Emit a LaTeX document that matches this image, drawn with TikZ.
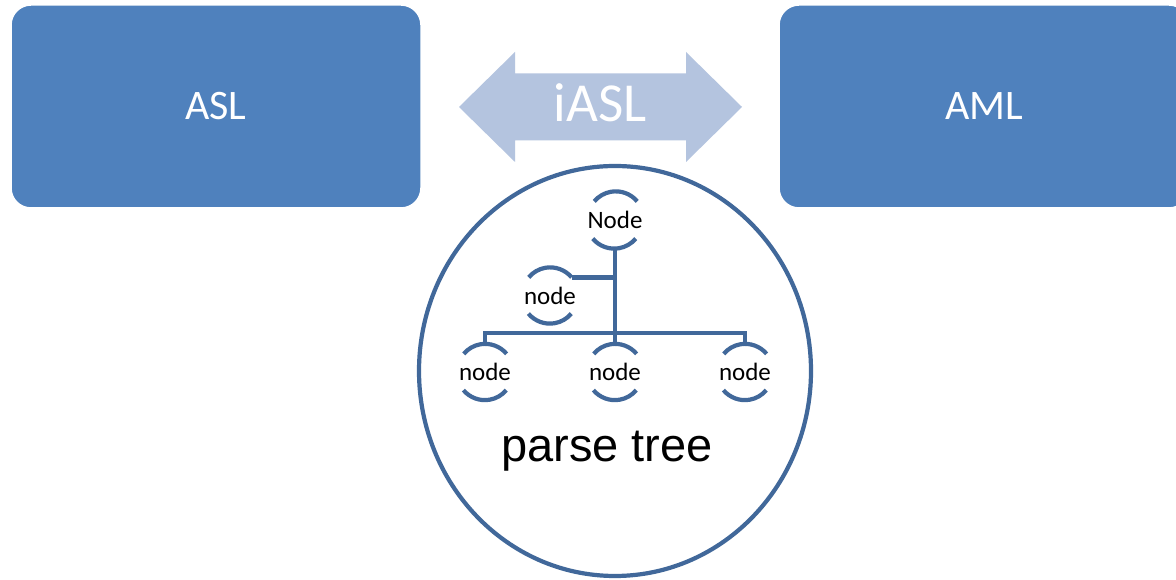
\documentclass[tikz,border=0pt]{standalone}
\usepackage{fontspec}
\setmainfont{Carlito}
\newfontfamily\arialf{Liberation Sans}
\usetikzlibrary{shapes.geometric}
\definecolor{boxblue}{HTML}{4F81BD}
\definecolor{arrowblue}{HTML}{B4C4DF}
\definecolor{treeblue}{HTML}{41689A}
\tikzset{
  bigbox/.style={rectangle, rounded corners=20pt, fill=boxblue, draw=white, line width=1.5pt,
    minimum width=410pt, minimum height=203pt, inner sep=0pt, text=white,
    font=\fontsize{42}{50}\selectfont},
  treenode/.style={circle, minimum size=56pt, inner sep=0pt, text=black,
    font=\fontsize{25}{30}\selectfont},
  treearc/.style={draw=treeblue, line width=4.2pt},
  treeline/.style={draw=treeblue, line width=4.7pt},
}
\begin{document}
\begin{tikzpicture}[x=1pt,y=1pt]
\useasboundingbox (0,0) rectangle (1176,580);
\fill[white] (0,0) rectangle (1176,580);
\begin{scope}
\clip (0,0) rectangle (1176,580);
\node[bigbox] (asl) at (216,473.5) {ASL};
\node[bigbox] (aml) at (984,473.5) {AML};
\end{scope}
% double arrow
\fill[arrowblue] (459,473) -- (515,528) -- (515,506.5) -- (686,506.5) -- (686,528) -- (742,473)
  -- (686,418) -- (686,439.5) -- (515,439.5) -- (515,418) -- cycle;
\node[anchor=base, text=white, font=\fontsize{55}{60}\selectfont, inner sep=0pt] (iasl) at (600,458.3) {iASL};
% parse tree ellipse
\node[ellipse, draw=treeblue, line width=4.2pt, minimum width=392pt, minimum height=410pt, inner sep=0pt] (pt) at (615,209) {};
\node[anchor=base, font=\arialf\fontsize{47}{54}\selectfont, inner sep=0pt] (ptl) at (607,118.3) {parse tree};
% tree nodes
\node[treenode] (n0) at (615,360) {Node};
\node[treenode] (n1) at (550,284.5) {node};
\node[treenode] (nl) at (485,208) {node};
\node[treenode] (nm) at (615,208) {node};
\node[treenode] (nr) at (745,208) {node};
\foreach \n in {n0,n1,nl,nm,nr}{
  \draw[treearc] (\n.40) arc[start angle=40, end angle=140, radius=28pt];
  \draw[treearc] (\n.220) arc[start angle=220, end angle=320, radius=28pt];
}
\coordinate (bar) at (615,247);
\draw[treeline] (n0.south) -- (nm.north);
\draw[treeline] (n1.40) -- (n1.40 -| n0.south);
\draw[treeline] (nl.north) |- (bar) -| (nr.north);
\end{tikzpicture}
\end{document}
